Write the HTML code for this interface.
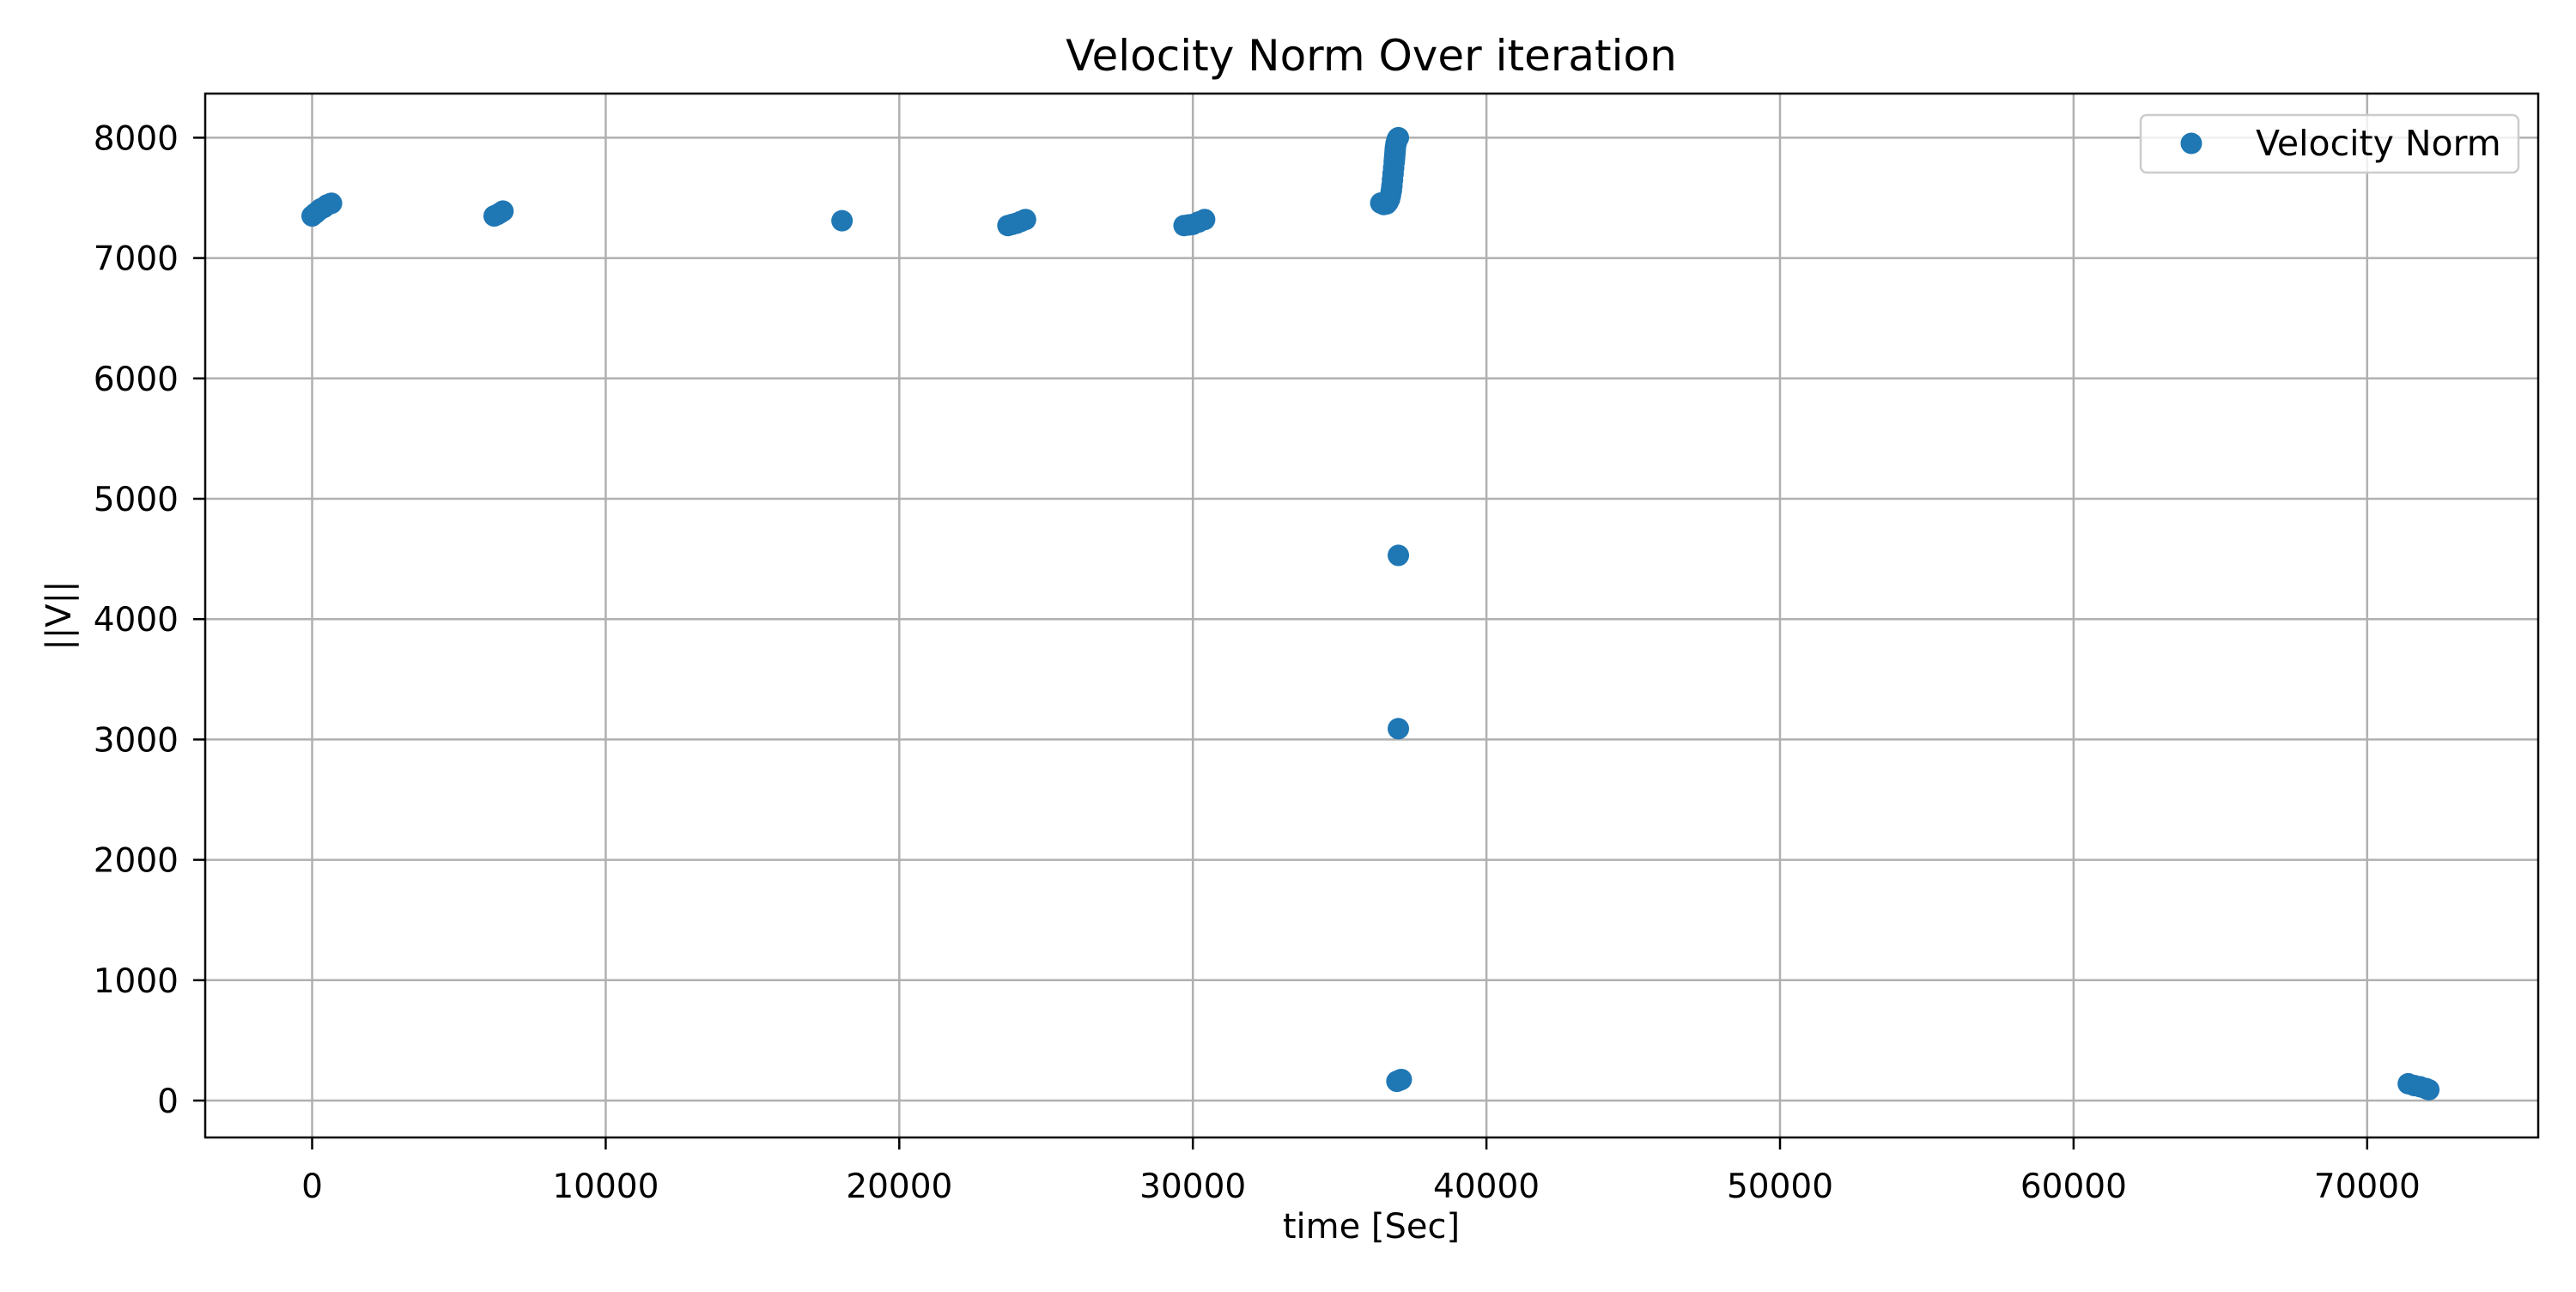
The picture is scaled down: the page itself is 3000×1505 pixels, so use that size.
<!DOCTYPE html>
<html><head><meta charset="utf-8"><style>
html,body{margin:0;padding:0;background:#fff;}
svg text{font-family:"DejaVu Sans","Liberation Sans",sans-serif;fill:#000;}
</style></head><body>
<svg id="chart" width="3000" height="1500" viewBox="0 0 3000 1500" xmlns="http://www.w3.org/2000/svg">
<rect width="3000" height="1500" fill="#fff"/>
<g id="grid"></g>
<g id="points"></g>
<rect x="239" y="109" width="2717" height="1216" fill="none" stroke="#000" stroke-width="2.5"/>
<g id="ticks"></g>
<text x="1597" y="82" font-size="50" text-anchor="middle">Velocity Norm Over iteration</text>
<text x="1597" y="1442" font-size="40" text-anchor="middle">time [Sec]</text>
<text x="82" y="717" font-size="40" text-anchor="middle" transform="rotate(-90 82 717)">||V||</text>
<g>
<rect x="2493" y="134" width="440" height="67" rx="7" fill="#fff" fill-opacity="0.8" stroke="#ccc" stroke-width="2.5"/>
<circle cx="2552" cy="167" r="12.5" fill="#1f77b4"/>
<text x="2627" y="181" font-size="41">Velocity Norm</text>
</g>
</svg>
<script>
const xTicks=[0,10000,20000,30000,40000,50000,60000,70000];
const yTicks=[0,1000,2000,3000,4000,5000,6000,7000,8000];
const timeVals=[0,100,200,300,400,500,600,660,
6200,6300,6400,6500,
18050,
23700,23850,24000,24150,24300,
29700,29850,30000,30200,30400,
36400,36500,36600,36650,36700,36730,36760,36780,36800,36820,36840,36860,36870,36880,36890,36900,36920,36940,36960,36980,37000,
37000,37000,
36950,37050,37100,
71400,71600,71800,72000,72100];
const velVals=[7350,7370,7390,7410,7420,7440,7450,7455,
7350,7360,7375,7390,
7310,
7270,7280,7290,7305,7320,
7270,7275,7280,7300,7320,
7457,7445,7450,7465,7490,7520,7560,7600,7650,7700,7750,7800,7830,7860,7890,7920,7950,7970,7985,7995,8000,
4530,3090,
160,170,175,
140,125,115,100,90];
const X=v=>363.5+v*0.03419;
const Y=v=>1282-v*0.1402;
const NS='http://www.w3.org/2000/svg';
const grid=document.getElementById('grid'),ticks=document.getElementById('ticks'),pts=document.getElementById('points');
function mk(tag,attrs,parent){const e=document.createElementNS(NS,tag);for(const k in attrs)e.setAttribute(k,attrs[k]);parent.appendChild(e);return e;}
xTicks.forEach(t=>{
 const gl=mk('line',{x1:X(t),x2:X(t),y1:109,y2:1325,stroke:'#b0b0b0','stroke-width':2.5},grid);
 
 
 const tk=mk('line',{x1:X(t),x2:X(t),y1:1325,y2:1339,stroke:'#000','stroke-width':2.5},ticks);
 
 
 const tx=mk('text',{x:X(t),y:1395,'font-size':39,'text-anchor':'middle'},ticks);
 tx.textContent=t;
 
 
});
yTicks.forEach(t=>{
 const gl=mk('line',{x1:239,x2:2956,y1:Y(t),y2:Y(t),stroke:'#b0b0b0','stroke-width':2.5},grid);
 
 
 const tk=mk('line',{x1:225,x2:239,y1:Y(t),y2:Y(t),stroke:'#000','stroke-width':2.5},ticks);
 
 
 const tx=mk('text',{x:208,y:Y(t)+14,'font-size':39,'text-anchor':'end'},ticks);
 tx.textContent=t;
 
 
});
timeVals.forEach((t,i)=>{
 const c=mk('circle',{cx:X(t),cy:Y(velVals[i]),r:12.5,fill:'#1f77b4'},pts);
 
 
});
</script>
</body></html>
